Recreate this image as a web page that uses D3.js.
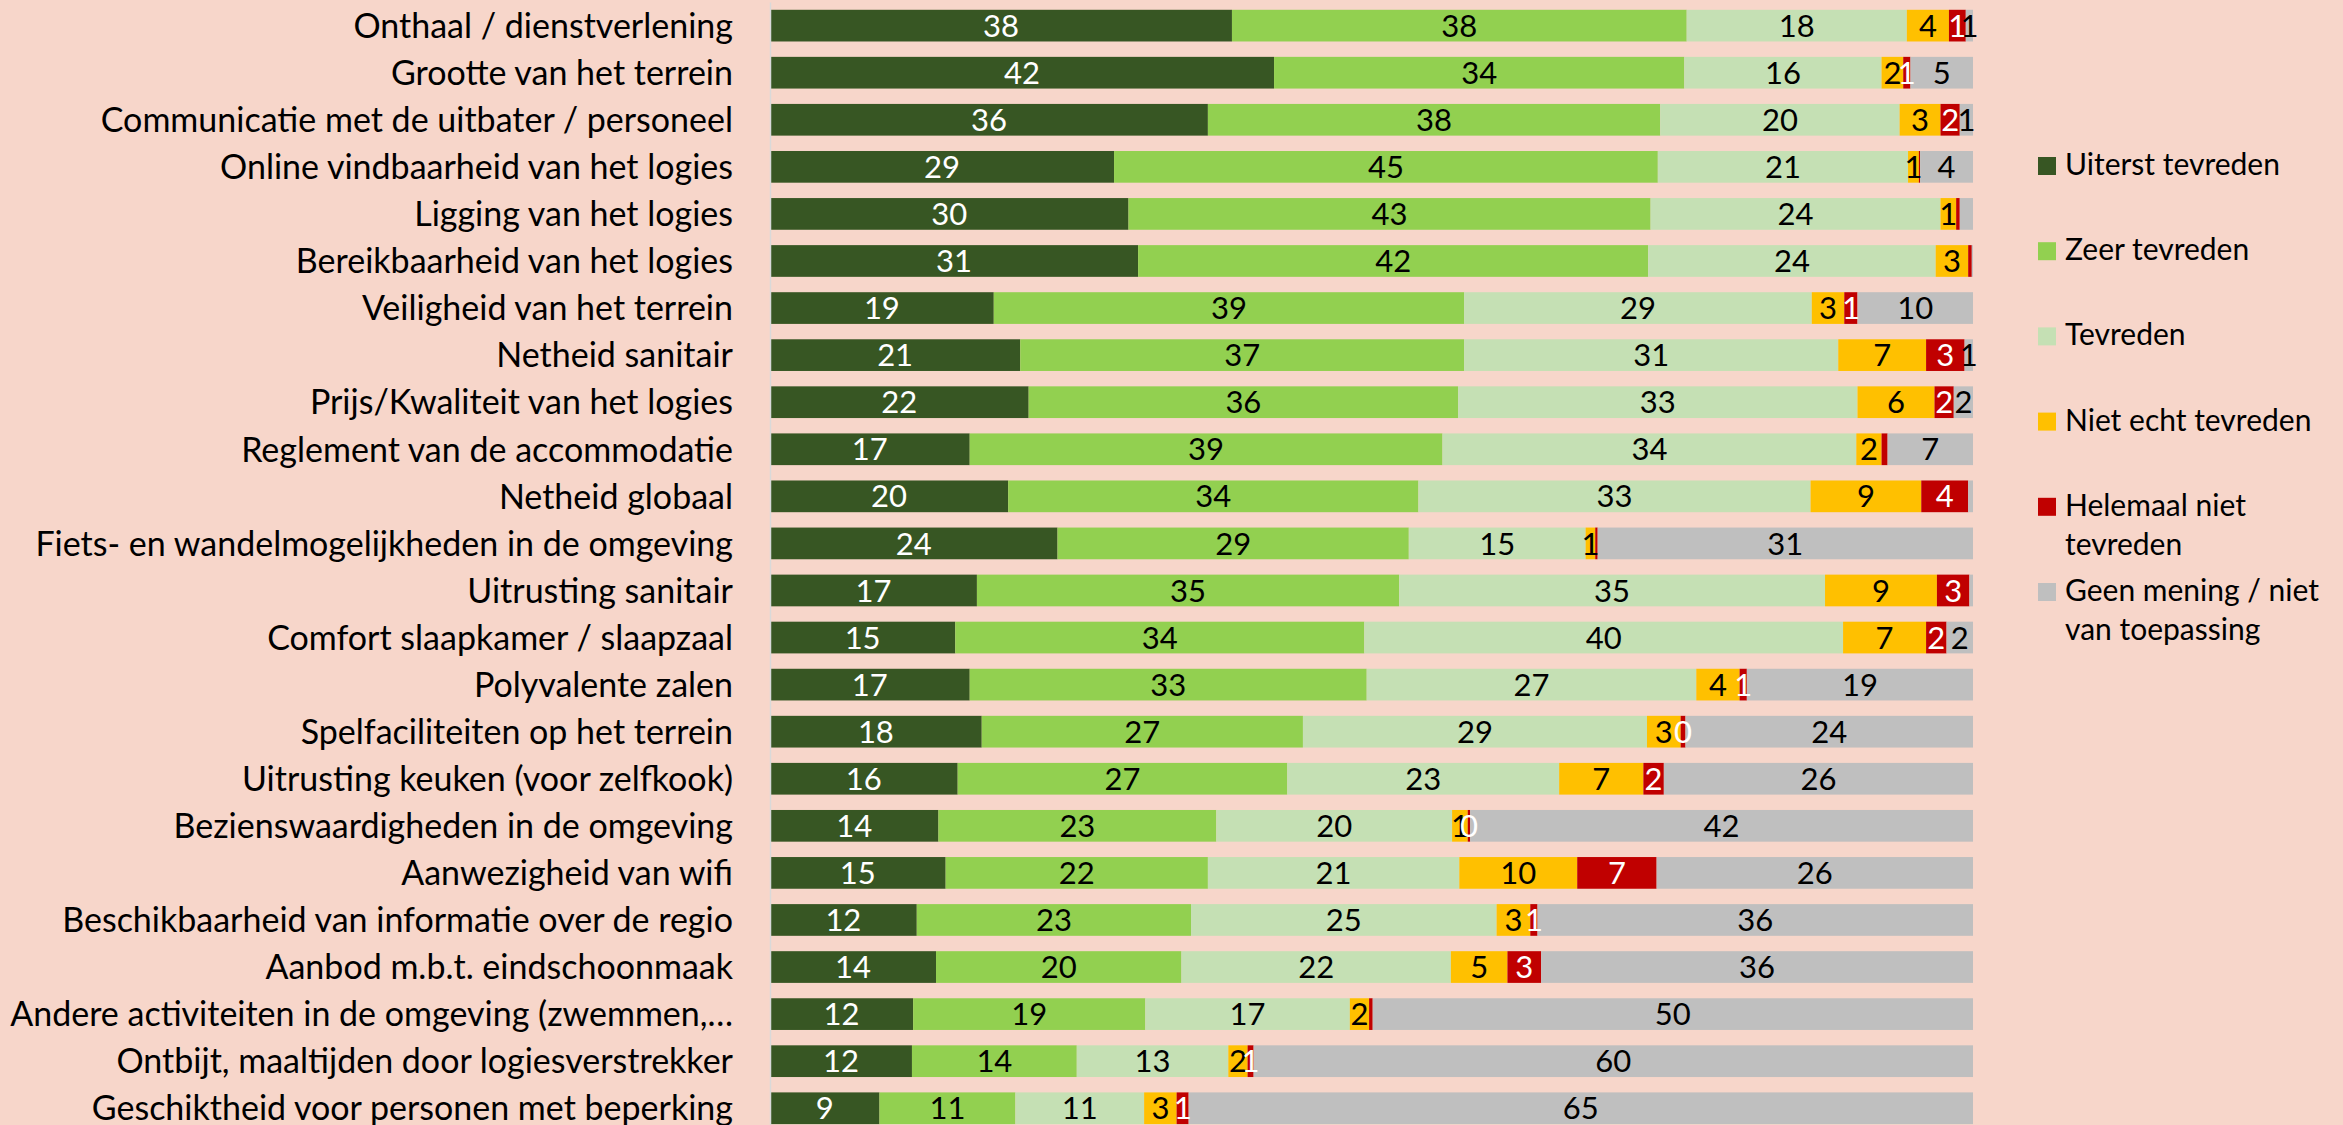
<!DOCTYPE html>
<html>
<head>
<meta charset="utf-8">
<script src="https://cdn.jsdelivr.net/npm/d3@7"></script>
<style>
  html, body { margin: 0; padding: 0; background: #F7D6CA; }
  svg { display: block; }
</style>
</head>
<body>
<svg id="chart" width="2343" height="1125"></svg>
<script>
const categories = [
  "Onthaal / dienstverlening",
  "Grootte van het terrein",
  "Communicatie met de uitbater / personeel",
  "Online vindbaarheid van het logies",
  "Ligging van het logies",
  "Bereikbaarheid van het logies",
  "Veiligheid van het terrein",
  "Netheid sanitair",
  "Prijs/Kwaliteit van het logies",
  "Reglement van de accommodatie",
  "Netheid globaal",
  "Fiets- en wandelmogelijkheden in de omgeving",
  "Uitrusting sanitair",
  "Comfort slaapkamer / slaapzaal",
  "Polyvalente zalen",
  "Spelfaciliteiten op het terrein",
  "Uitrusting keuken (voor zelfkook)",
  "Bezienswaardigheden in de omgeving",
  "Aanwezigheid van wifi",
  "Beschikbaarheid van informatie over de regio",
  "Aanbod m.b.t. eindschoonmaak",
  "Andere activiteiten in de omgeving (zwemmen,…",
  "Ontbijt, maaltijden door logiesverstrekker",
  "Geschiktheid voor personen met beperking"
];

const seriesNames = [
  "Uiterst tevreden",
  "Zeer tevreden",
  "Tevreden",
  "Niet echt tevreden",
  "Helemaal niet tevreden",
  "Geen mening / niet van toepassing"
];

// estimated (unrounded) percentages
const uiterstTevreden   = [38.4, 41.9, 36.4, 28.6, 29.8, 30.6, 18.6, 20.8, 21.5, 16.6, 19.8, 23.9, 17.2, 15.4, 16.6, 17.6, 15.6, 14.0, 14.6, 12.2, 13.8, 11.9, 11.8, 9.1];
const zeerTevreden      = [37.8, 34.1, 37.6, 45.2, 43.4, 42.4, 39.1, 36.9, 35.7, 39.3, 34.1, 29.2, 35.1, 34.0, 33.0, 26.7, 27.4, 23.1, 21.8, 22.8, 20.4, 19.3, 13.7, 11.3];
const tevreden          = [18.3, 16.4, 19.9, 20.8, 24.1, 23.9, 28.9, 31.1, 33.2, 34.4, 32.6, 14.7, 35.4, 39.8, 27.4, 28.6, 22.6, 19.6, 20.9, 25.4, 22.4, 17.0, 12.6, 10.7];
const nietEchtTevreden  = [3.5, 1.8, 3.4, 0.9, 1.3, 2.7, 2.7, 7.3, 6.4, 2.1, 9.2, 0.8, 9.3, 6.9, 3.6, 2.8, 7.0, 1.3, 9.8, 2.8, 4.7, 1.6, 1.6, 2.7];
const helemaalNiet      = [1.4, 0.6, 1.6, 0.1, 0.3, 0.3, 1.1, 3.2, 1.6, 0.5, 3.9, 0.2, 2.7, 1.7, 0.6, 0.4, 1.7, 0.2, 6.6, 0.6, 2.8, 0.3, 0.5, 1.0];
const geenMening        = [0.6, 5.2, 1.1, 4.4, 1.1, 0.1, 9.6, 0.7, 1.6, 7.1, 0.4, 31.2, 0.3, 2.2, 18.8, 23.9, 25.7, 41.8, 26.3, 36.2, 35.9, 49.9, 59.8, 65.2];

// data labels as shown on the chart (null = no label)
const lblUiterst   = ["38","42","36","29","30","31","19","21","22","17","20","24","17","15","17","18","16","14","15","12","14","12","12","9"];
const lblZeer      = ["38","34","38","45","43","42","39","37","36","39","34","29","35","34","33","27","27","23","22","23","20","19","14","11"];
const lblTevreden  = ["18","16","20","21","24","24","29","31","33","34","33","15","35","40","27","29","23","20","21","25","22","17","13","11"];
const lblNietEcht  = ["4","2","3","1","1","3","3","7","6","2","9","1","9","7","4","3","7","1","10","3","5","2","2","3"];
const lblHelemaal  = ["1","1","2",null,null,null,"1","3","2",null,"4",null,"3","2","1","0","2","0","7","1","3",null,"1","1"];
const lblGeen      = ["1","5","1","4",null,null,"10","1","2","7",null,"31",null,"2","19","24","26","42","26","36","36","50","60","65"];

const seriesColors = ["#375623", "#92D050", "#C5E0B4", "#FFC000", "#C00000", "#BFBFBF"];
const labelColors  = ["#FFFFFF", "#000000", "#000000", "#000000", "#FFFFFF", "#000000"];
const legendLines  = [["Uiterst tevreden"], ["Zeer tevreden"], ["Tevreden"], ["Niet echt tevreden"], ["Helemaal niet", "tevreden"], ["Geen mening / niet", "van toepassing"]];

const seriesValues = [uiterstTevreden, zeerTevreden, tevreden, nietEchtTevreden, helemaalNiet, geenMening];
const seriesLabels = [lblUiterst, lblZeer, lblTevreden, lblNietEcht, lblHelemaal, lblGeen];

const table = categories.map((c, i) => {
  const row = { cat: c };
  seriesNames.forEach((s, k) => { row[s] = seriesValues[k][i]; });
  return row;
});

const FONT = "Lato, 'Open Sans', sans-serif";
const svg = d3.select("#chart");
svg.append("rect").attr("width", 2343).attr("height", 1125).attr("fill", "#F7D6CA");

const x = d3.scaleLinear().domain([0, 100]).range([770, 1973]);
const step = 47.07;
const y = d3.scaleBand().domain(categories)
  .range([2.1, 2.1 + categories.length * step])
  .paddingInner(0.3265).paddingOuter(0.16325);

const stacked = d3.stack().keys(seriesNames)(table);

const layers = svg.append("g").selectAll("g.layer")
  .data(stacked).join("g")
  .attr("class", "layer")
  .attr("fill", (d, k) => seriesColors[k]);

layers.selectAll("rect")
  .data(d => d)
  .join("rect")
  .attr("x", d => x(d[0]))
  .attr("width", d => x(d[1]) - x(d[0]))
  .attr("y", d => y(d.data.cat))
  .attr("height", y.bandwidth());

// data labels
const labelG = svg.append("g");
stacked.forEach((layer, k) => {
  labelG.append("g").selectAll("text")
    .data(layer.map((d, i) => ({ d, i })).filter(o => seriesLabels[k][o.i] !== null))
    .join("text")
    .attr("x", o => (x(o.d[0]) + x(o.d[1])) / 2)
    .attr("y", o => y(o.d.data.cat) + y.bandwidth() / 2)
    .attr("dy", "0.36em")
    .attr("text-anchor", "middle")
    .attr("font-family", FONT)
    .attr("font-size", 31)
    .attr("fill", labelColors[k])
    .text(o => seriesLabels[k][o.i]);
});

// category axis
const axis = svg.append("g")
  .attr("transform", `translate(${x(0)},0)`)
  .call(d3.axisLeft(y).tickSize(0).tickSizeOuter(0).tickPadding(37));
axis.select(".domain").attr("stroke", "#D9D9D9").attr("stroke-width", 1.5);
axis.selectAll(".tick text")
  .attr("font-family", FONT)
  .attr("font-size", 34)
  .attr("fill", "#000")
  .attr("dy", "0.36em");

// legend
const legend = svg.append("g");
const legY = d3.scaleLinear().domain([0, 5]).range([175, 601]);
legendLines.forEach((lines, k) => {
  const g = legend.append("g");
  g.append("rect")
    .attr("x", 2038).attr("y", legY(k) - 18)
    .attr("width", 18).attr("height", 18)
    .attr("fill", seriesColors[k]);
  lines.forEach((t, j) => {
    g.append("text")
      .attr("x", 2065).attr("y", legY(k) + j * 39)
      .attr("font-family", FONT)
      .attr("font-size", 30)
      .attr("fill", "#000")
      .text(t);
  });
});
</script>
</body>
</html>
